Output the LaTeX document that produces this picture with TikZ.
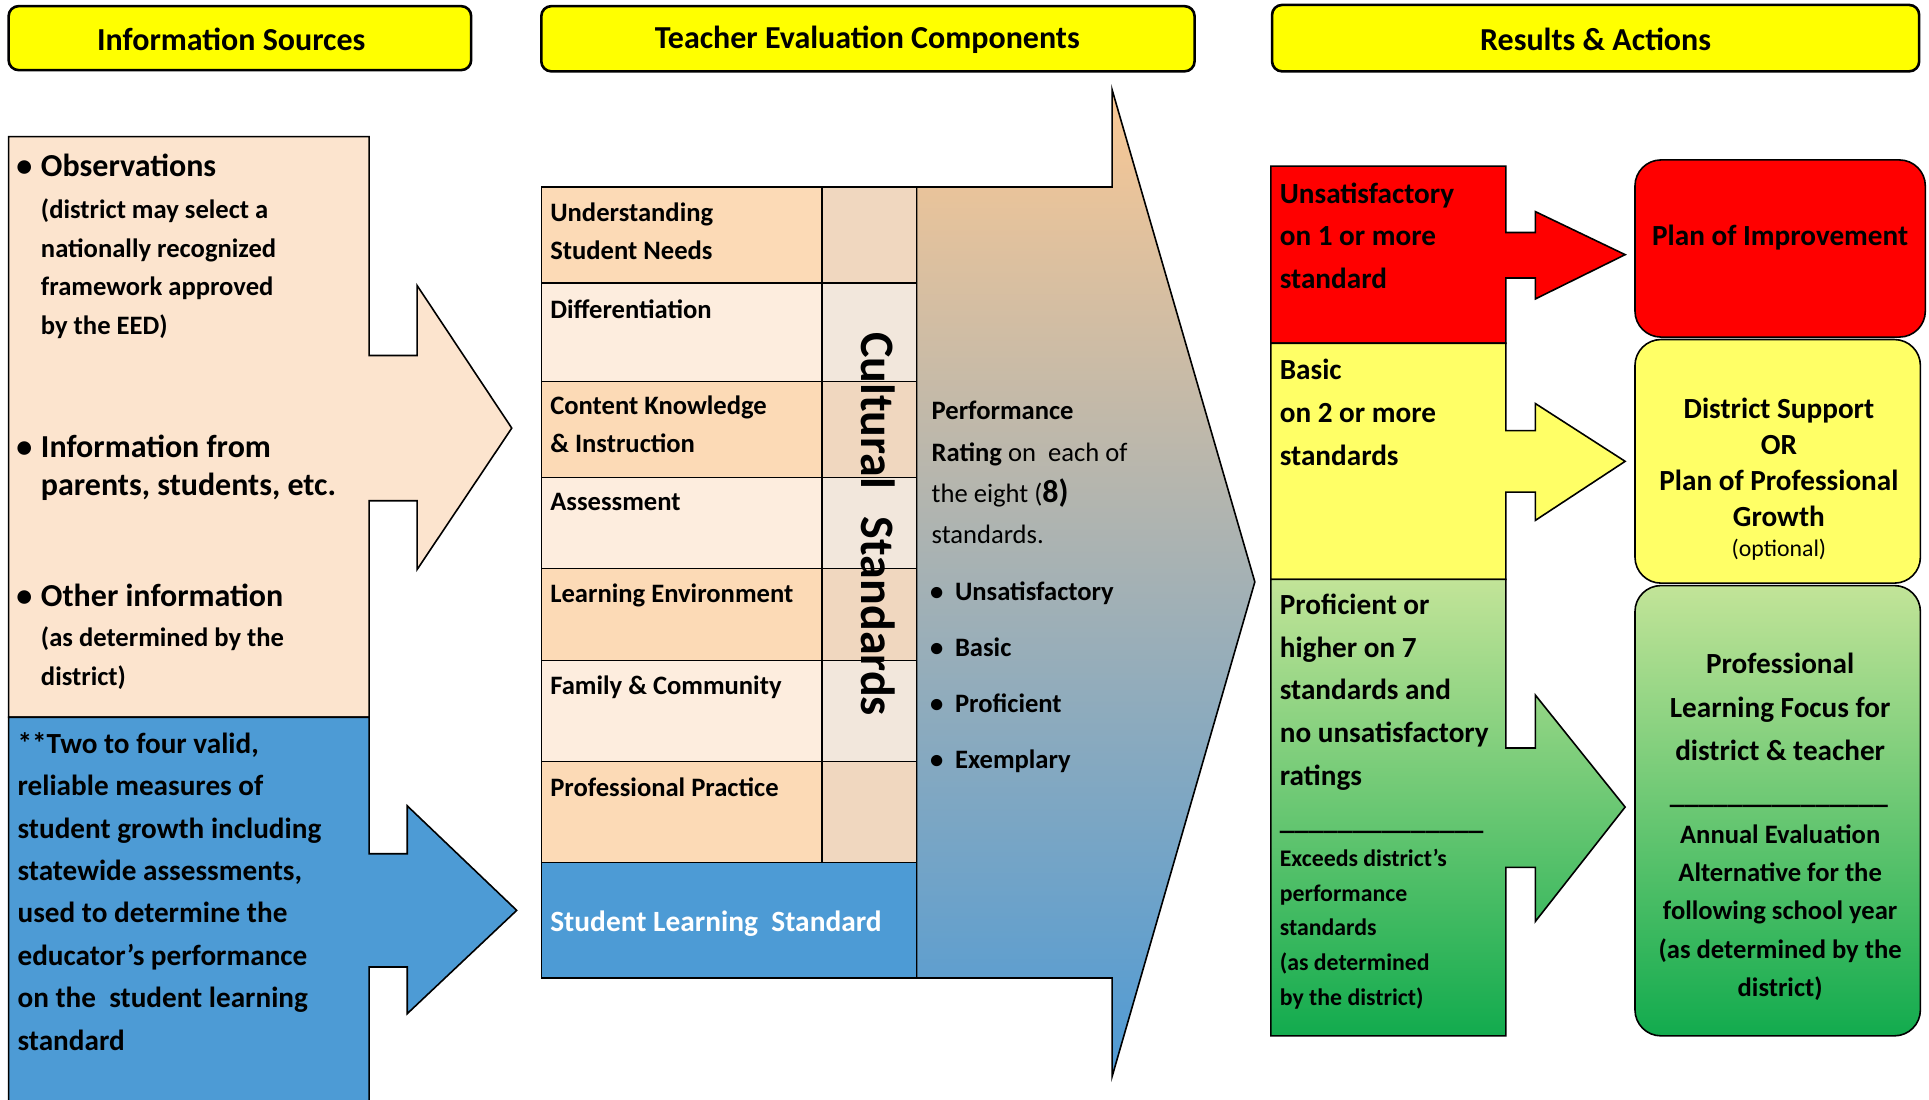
\documentclass[tikz,border=0pt]{standalone}
\usepackage{fontspec}
\setmainfont{Carlito}

\definecolor{srcpeach}{RGB}{252,228,206}
\definecolor{srcblue}{RGB}{77,155,213}
\definecolor{rowdark}{RGB}{252,218,182}
\definecolor{rowlight}{RGB}{253,237,222}
\definecolor{culdark}{RGB}{240,215,191}
\definecolor{cullight}{RGB}{242,231,220}
\definecolor{hdryellow}{RGB}{255,255,0}
\definecolor{basicyellow}{RGB}{255,255,102}
\definecolor{unsatred}{RGB}{255,0,0}
\definecolor{proftop}{RGB}{194,228,152}
\definecolor{profbot}{RGB}{18,171,78}
\definecolor{ratetop}{RGB}{250,200,148}
\definecolor{ratemid}{RGB}{188,180,196}
\definecolor{ratebot}{RGB}{78,154,213}

\newcommand{\setfs}[2]{\fontsize{#1}{#2}\selectfont}
\newcommand{\dotitem}[1]{\llap{•\hspace{#1}}}

\begin{document}
\begin{tikzpicture}[x=0.6151pt,y=-0.6151pt,
    box/.style={draw=black,line width=0.8pt},
    hdr/.style={draw=black,line width=1.3pt,fill=hdryellow,rounded corners=5pt},
    goal/.style={draw=black,line width=0.8pt,rounded corners=13pt},
    lbl/.style={inner sep=0pt,anchor=base west,align=left},
    clbl/.style={inner sep=0pt,anchor=base,align=center}]
\useasboundingbox (0,0) rectangle (1568,894);
\clip (0,0) rectangle (1568,894);
% (multi-line labels sit on the baseline of their last line)

% column headers
\draw[hdr] (7,5) rectangle (383,57);
\draw[hdr] (440,5) rectangle (971,58);
\draw[hdr] (1034,4) rectangle (1560,58);
\node[font=\setfs{16}{19}\bfseries] (hsrc) at (188,32) {Information Sources};
\node[font=\setfs{16}{19}\bfseries] (hcomp) at (705,32) {Teacher Evaluation Components};
\node[font=\setfs{16}{19}\bfseries] (hres) at (1297,32) {Results \& Actions};

% information sources
\draw[box,fill=srcpeach] (7,111) -- (300,111) -- (300,289) -- (339,289) -- (339,232) -- (416,348)
  -- (339,463) -- (339,407) -- (300,407) -- (300,583) -- (7,583) -- cycle;
\draw[box,fill=srcblue] (7,583) -- (300,583) -- (300,694) -- (331,694) -- (331,655) -- (420,740)
  -- (331,824) -- (331,786) -- (300,786) -- (300,900) -- (7,900) -- cycle;
\node[lbl,font=\setfs{16}{19.2}\bfseries] (obs) at (33,143.6) {\dotitem{4.4pt}Observations};
\node[lbl,font=\setfs{13.3}{19.4}\bfseries] (obsnote) at (33,272)
  {(district may select a\\nationally recognized\\framework approved\\by the EED)};
\node[lbl,font=\setfs{16}{19.2}\bfseries] (info) at (33,402.8)
  {\dotitem{4.4pt}Information from\\parents, students, etc.};
\node[lbl,font=\setfs{16}{19.2}\bfseries] (other) at (33,493) {\dotitem{4.4pt}Other information};
\node[lbl,font=\setfs{13.3}{19.3}\bfseries] (othernote) at (33,556.9) {(as determined by the\\district)};
\node[lbl,font=\setfs{14.6}{21.2}\bfseries] (growth) at (14,853.5)
  {**Two to four valid,\\reliable measures of\\student growth including\\statewide assessments,\\used to determine the\\educator’s performance\\on the\ \ student learning\\standard};

% performance rating arrow
\shadedraw[box,top color=ratetop,middle color=ratemid,bottom color=ratebot] (745,152) -- (904,152)
  -- (904,73) -- (1020,473) -- (904,875) -- (904,795) -- (745,795) -- cycle;
\node[lbl,font=\setfs{13.3}{20.6}] (rating) at (757,441.8)
  {\textbf{Performance}\\\textbf{Rating} on\ \ each of\\the eight (\textbf{\setfs{16}{16}8)}\\standards.};
\node[lbl,font=\setfs{13.3}{27.9}\bfseries] (levels) at (776,624.4)
  {\dotitem{5.9pt}Unsatisfactory\\\dotitem{5.9pt}Basic\\\dotitem{5.9pt}Proficient\\\dotitem{5.9pt}Exemplary};

% evaluation components
\foreach \ya/\yb/\rc/\cc in {152/230/rowdark/culdark,230/310/rowlight/cullight,
    310/388/rowdark/culdark,388/462/rowlight/cullight,462/537/rowdark/culdark,
    537/619/rowlight/cullight,619/701/rowdark/culdark}
  {\draw[box,fill=\rc] (440,\ya) rectangle (668,\yb);
   \draw[box,fill=\cc] (668,\ya) rectangle (745,\yb);}
\draw[box,fill=srcblue] (440,701) rectangle (745,795);
\node[lbl,font=\setfs{13.3}{19.1}\bfseries] (needs) at (447,211.3) {Understanding\\Student Needs};
\node[lbl,font=\setfs{13.3}{19.1}\bfseries] (diff) at (447,258.5) {Differentiation};
\node[lbl,font=\setfs{13.3}{19.1}\bfseries] (content) at (447,368) {Content Knowledge\\\& Instruction};
\node[lbl,font=\setfs{13.3}{19.1}\bfseries] (assess) at (447,415.3) {Assessment};
\node[lbl,font=\setfs{13.3}{19.1}\bfseries] (env) at (447,490) {Learning Environment};
\node[lbl,font=\setfs{13.3}{19.1}\bfseries] (family) at (447,564.2) {Family \& Community};
\node[lbl,font=\setfs{13.3}{19.1}\bfseries] (practice) at (447,647.6) {Professional Practice};
\node[lbl,font=\setfs{14.7}{19.1}\bfseries,text=white] (sls) at (447,757.3) {Student Learning\ \ Standard};
\node[rotate=-90,font=\setfs{24}{28}\bfseries] (cultural) at (714,426) {Cultural\hspace{0.35em} Standards};

% results
\draw[box,fill=unsatred] (1033,135) -- (1224,135) -- (1224,189) -- (1248,189) -- (1248,172) -- (1321,207)
  -- (1248,243) -- (1248,226) -- (1224,226) -- (1224,279) -- (1033,279) -- cycle;
\draw[box,fill=basicyellow] (1033,279) -- (1224,279) -- (1224,350) -- (1248,350) -- (1248,328) -- (1321,375)
  -- (1248,423) -- (1248,400) -- (1224,400) -- (1224,471) -- (1033,471) -- cycle;
\shadedraw[box,top color=proftop,bottom color=profbot] (1033,471) -- (1224,471) -- (1224,608) -- (1248,608)
  -- (1248,565) -- (1321,656) -- (1248,749) -- (1248,705) -- (1224,705) -- (1224,842) -- (1033,842) -- cycle;
\node[lbl,font=\setfs{14.6}{21.3}\bfseries] (unsat) at (1040,234.4) {Unsatisfactory\\on 1 or more\\standard};
\node[lbl,font=\setfs{14.6}{21.3}\bfseries] (basic) at (1040,378) {Basic\\on 2 or more\\standards};
\node[lbl,font=\setfs{14.6}{21.3}\bfseries] (prof) at (1040,638.1)
  {Proficient or\\higher on 7\\standards and\\no unsatisfactory\\ratings};
\node[lbl,font=\setfs{14.6}{21.3}\bfseries] (profrule) at (1040,674) {\_\_\_\_\_\_\_\_\_\_\_\_\_\_};
\node[lbl,font=\setfs{11.9}{17.3}\bfseries] (exceeds) at (1040,817)
  {Exceeds district’s\\performance\\standards\\(as determined\\by the district)};

% actions
\draw[goal,fill=unsatred] (1329,130) rectangle (1565,274);
\draw[goal,fill=basicyellow] (1329,276) rectangle (1561,474);
\shadedraw[goal,top color=proftop,bottom color=profbot] (1329,476) rectangle (1561,842);
\node[clbl,font=\setfs{14.6}{21.3}\bfseries] (improve) at (1447,199.2) {Plan of Improvement};
\node[clbl,font=\setfs{14.6}{18.1}\bfseries] (support) at (1446,428.1)
  {District Support\\OR\\Plan of Professional\\Growth};
\node[clbl,font=\setfs{11.9}{14}] (optional) at (1446,452.5) {(optional)};
\node[clbl,font=\setfs{14.6}{21.8}\bfseries] (focus) at (1447,618.3)
  {Professional\\Learning Focus for\\district \& teacher};
\node[clbl,font=\setfs{14.6}{21.3}\bfseries] (focusrule) at (1446,653) {\_\_\_\_\_\_\_\_\_\_\_\_\_\_\_};
\node[clbl,font=\setfs{13.3}{19.2}\bfseries] (annual) at (1447,810.2)
  {Annual Evaluation\\Alternative for the\\following school year\\(as determined by the\\district)};
\end{tikzpicture}
\end{document}
